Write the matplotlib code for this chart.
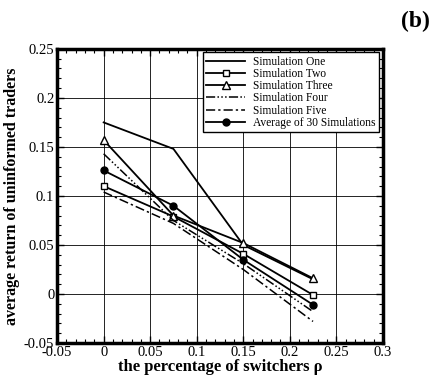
import matplotlib
matplotlib.use("Agg")
import matplotlib.pyplot as plt
from matplotlib.ticker import MultipleLocator

rho = [0, 0.075, 0.15, 0.225]
sim_one = [0.175, 0.148, 0.050, 0.015]
sim_two = [0.110, 0.079, 0.041, -0.001]
sim_three = [0.157, 0.080, 0.052, 0.016]
sim_four = [0.143, 0.075, 0.031, -0.018]
sim_five = [0.104, 0.072, 0.025, -0.028]
average = [0.126, 0.090, 0.035, -0.011]

plt.rcParams['font.family'] = ['Liberation Serif', 'DejaVu Serif']

fig = plt.figure(figsize=(4.36, 3.88), dpi=100)
ax = fig.add_axes([0.131, 0.116, 0.747, 0.758])

ax.plot(rho, sim_one, color='k', lw=1.3, label='Simulation One')
ax.plot(rho, sim_two, color='k', lw=1.3, marker='s', ms=5, mfc='white', label='Simulation Two')
ax.plot(rho, sim_three, color='k', lw=1.3, marker='^', ms=6, mfc='white', label='Simulation Three')
ax.plot(rho, sim_four, color='k', lw=1.1, dashes=[6, 1.5, 1, 1.5, 1, 1.5, 1, 1.5], label='Simulation Four')
ax.plot(rho, sim_five, color='k', lw=1.1, dashes=[6, 2, 1.5, 2], label='Simulation Five')
ax.plot(rho, average, color='k', lw=1.3, marker='o', ms=5, label='Average of 30 Simulations')

ax.set_xlim(-0.05, 0.3)
ax.set_ylim(-0.05, 0.25)
ax.xaxis.set_minor_locator(MultipleLocator(0.01))
ax.yaxis.set_minor_locator(MultipleLocator(0.01))
ax.set_xticks([-0.05, 0, 0.05, 0.1, 0.15, 0.2, 0.25, 0.3])
ax.set_xticklabels(['-0.05', '0', '0.05', '0.1', '0.15', '0.2', '0.25', '0.3'])
ax.set_yticks([-0.05, 0, 0.05, 0.1, 0.15, 0.2, 0.25])
ax.set_yticklabels(['-0.05', '0', '0.05', '0.1', '0.15', '0.2', '0.25'])
ax.tick_params(which='both', direction='in', top=True, right=True, labelsize=10.5, pad=2)
ax.tick_params(which='major', length=5, width=1)
ax.tick_params(which='minor', length=3, width=0.8)
ax.grid(True, which='major', color='k', lw=0.6)
for s in ax.spines.values():
    s.set_linewidth(2.5)

ax.set_xlabel('the percentage of switchers ρ', fontsize=12, fontweight='bold', labelpad=0)
ax.set_ylabel('average return of uninformed traders', fontsize=11.5, fontweight='bold', labelpad=3)

leg = ax.legend(loc='upper right', fontsize=8.3, frameon=True, fancybox=False,
                edgecolor='k', framealpha=1, handlelength=3.4, borderpad=0.3,
                labelspacing=0.02, handletextpad=0.7, borderaxespad=0.3)
leg.get_frame().set_linewidth(1)

fig.text(0.985, 0.93, '(b)', fontsize=17, fontweight='bold', ha='right')

fig.savefig('out.png', dpi=100)
